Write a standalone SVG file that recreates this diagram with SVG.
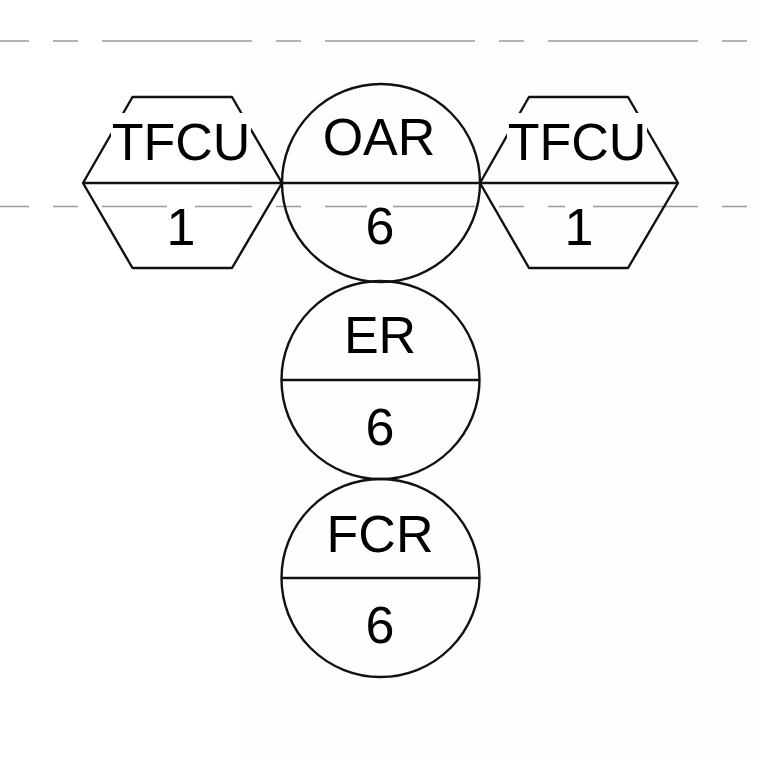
<svg xmlns="http://www.w3.org/2000/svg" width="760" height="760" viewBox="0 0 760 760">
  <style>
    .shape { fill: none; stroke: #111; stroke-width: 2.4; stroke-linejoin: round; }
    .div { stroke: #111; stroke-width: 2.4; }
    .guide { stroke: #9a9a9a; stroke-width: 1.4; fill: none; stroke-dasharray: 150 24 25 24; stroke-dashoffset: 121; }
    .lbl { font-family: "Liberation Sans", Arial, sans-serif; font-size: 52px; fill: #000; text-anchor: middle; }
    .bg { fill: #fefefe; }
  </style>
  <rect x="0" y="0" width="760" height="760" fill="#ffffff"/>
  <rect x="240" y="0" width="520" height="760" fill="#fefefe"/>

  <g id="guides">
    <line class="guide" x1="0" y1="41" x2="760" y2="41"/>
    <line class="guide" x1="0" y1="206.5" x2="760" y2="206.5"/>
  </g>

  <g id="connectors"></g>

  <g id="node-tfcu-left">
    <polygon class="shape" points="83,183 132.5,97 232,97 282,183 232,268 132.5,268"/>
    <line class="div" x1="83" y1="183" x2="282" y2="183"/>
    <rect x="111" y="113" width="140" height="46" fill="#ffffff"/>
    <text class="lbl" x="181" y="160">TFCU</text>
    <rect x="167" y="199" width="28" height="46" fill="#ffffff"/>
    <text class="lbl" x="181" y="245">1</text>
  </g>

  <g id="node-oar">
    <circle class="shape" cx="381" cy="183" r="99"/>
    <line class="div" x1="282" y1="183" x2="480" y2="183"/>
    <text class="lbl" x="379" y="155">OAR</text>
    <rect class="bg" x="367" y="199" width="26" height="44"/>
    <text class="lbl" x="380" y="244">6</text>
  </g>

  <g id="node-tfcu-right">
    <polygon class="shape" points="480,183 529,97 628,97 678,183 628,268 529,268"/>
    <line class="div" x1="480" y1="183" x2="678" y2="183"/>
    <rect class="bg" x="507" y="113" width="140" height="46"/>
    <text class="lbl" x="577" y="160">TFCU</text>
    <rect class="bg" x="565" y="199" width="28" height="46"/>
    <text class="lbl" x="579" y="245">1</text>
  </g>

  <g id="node-er">
    <circle class="shape" cx="380.5" cy="380" r="99"/>
    <line class="div" x1="281.5" y1="380" x2="479.5" y2="380"/>
    <text class="lbl" x="380" y="353">ER</text>
    <text class="lbl" x="380" y="445">6</text>
  </g>

  <g id="node-fcr">
    <circle class="shape" cx="380.5" cy="578" r="99"/>
    <line class="div" x1="281.5" y1="578" x2="479.5" y2="578"/>
    <text class="lbl" x="380" y="552">FCR</text>
    <text class="lbl" x="380" y="643">6</text>
  </g>
</svg>
